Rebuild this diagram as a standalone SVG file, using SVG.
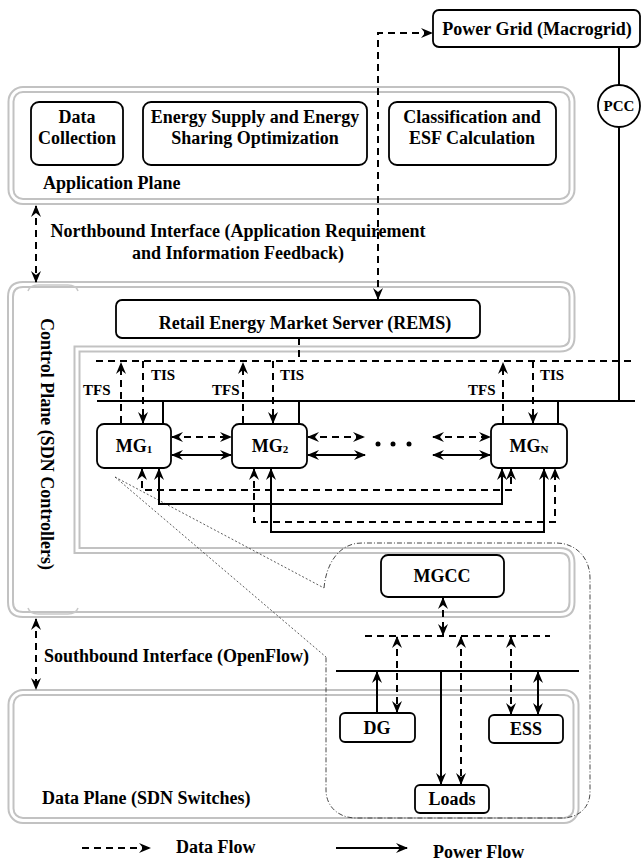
<svg xmlns="http://www.w3.org/2000/svg" width="644" height="862" viewBox="0 0 644 862">
<defs>
<style>
text{font-family:"Liberation Serif","Times New Roman",serif;font-weight:bold;fill:#000;font-size:18px}
.t15{font-size:15px}
.c{text-anchor:middle}
.box{fill:#fff;stroke:#000;stroke-width:1.8}
.plane{fill:none;stroke:#c2c2c2;stroke-width:7}
.gap{fill:none;stroke:#fff;stroke-width:3}
.d{fill:none;stroke:#000;stroke-width:2;stroke-dasharray:7 5}
.s{fill:none;stroke:#000;stroke-width:2}
.a1{marker-end:url(#ah)}
.a2{marker-start:url(#ah);marker-end:url(#ah)}
.lens{fill:none;stroke:#333;stroke-width:0.8;stroke-dasharray:2 2}
.bubble{fill:none;stroke:#333;stroke-width:0.9;stroke-dasharray:5 2 1 2}
.bump{fill:none;stroke:#c8c8c8;stroke-width:1.5}
</style>
<marker id="ah" viewBox="0 0 12 10" refX="11" refY="5" markerWidth="12" markerHeight="10" markerUnits="userSpaceOnUse" orient="auto-start-reverse">
<path d="M0,0 L12,5 L0,10 L4,5 Z" fill="#000"/>
</marker>
<rect id="appShape" x="11" y="89.5" width="561" height="112" rx="12"/>
<path id="ctrlShape" d="M23,284.5 H560 Q572,284.5 572,297 V337 Q572,349 560,349 H77 V550.5 H560 Q572,550.5 572,563 V602 Q572,614.5 560,614.5 H23 Q10.5,614.5 10.5,602 V297 Q10.5,284.5 23,284.5 Z"/>
<rect id="dataShape" x="11" y="692.5" width="565" height="128" rx="12"/>
</defs>

<!-- plane outlines (double grey border) -->
<g id="application-plane">
<use href="#appShape" class="plane"/>
<use href="#appShape" class="gap"/>
<text x="43" y="189">Application Plane</text>
</g>
<g id="control-plane">
<use href="#ctrlShape" class="plane"/>
<use href="#ctrlShape" class="gap"/>
<path class="bump" d="M28,291 Q30,285 38,285 H68 Q76,285 78,291"/>
<path class="bump" d="M28,608 Q30,614 38,614 H68 Q76,614 78,608"/>
<text class="c" transform="translate(41,444) rotate(90)">Control Plane (SDN Controllers)</text>
</g>
<g id="data-plane">
<use href="#dataShape" class="plane"/>
<use href="#dataShape" class="gap"/>
<text x="42" y="804">Data Plane (SDN Switches)</text>
</g>

<!-- zoom bubble around the microgrid internals -->
<g id="mg-detail">
<path class="lens" d="M115,477 L324,588 M115,477 L326,657"/>
<path class="bubble" d="M324,588 C326,565 338,543 362,543 H556 C576,543 590,558 590,578 V792 C590,808 578,818 562,818 H356 C338,818 326,806 326,790 V657"/>
</g>

<!-- connectors -->
<g id="connectors">
<!-- interfaces -->
<path class="d a2" d="M36,206 V282"/>
<path class="d a2" d="M36,619 V689"/>
<!-- REMS to power grid -->
<path class="d a2" d="M378,299 V33 H432"/>
<!-- grid tie through PCC -->
<path class="s" d="M619,47 V85 M619,127 V401"/>
<!-- power bus and information bus -->
<path class="s" d="M97,401 H635"/>
<path class="d" d="M96,361 H635"/>
<path class="d" d="M299,338 V361"/>
<!-- MG1 -->
<path class="d a1" d="M121,423 V363"/>
<path class="d a1" d="M143,361 V423"/>
<path class="s" d="M163,401 V424"/>
<!-- MG2 -->
<path class="d a1" d="M243,423 V363"/>
<path class="d a1" d="M273,361 V423"/>
<path class="s" d="M299,401 V424"/>
<!-- MGN -->
<path class="d a1" d="M503,423 V363"/>
<path class="d a1" d="M533,361 V423"/>
<path class="s" d="M558,401 V424"/>
<!-- MG to MG links -->
<path class="d a2" d="M172,437 H231"/>
<path class="s a2" d="M172,455 H231"/>
<path class="d a2" d="M308,437 H364"/>
<path class="s a2" d="M308,455 H365"/>
<path class="d a2" d="M433,437 H490"/>
<path class="s a2" d="M433,455 H490"/>
<path class="d a2" d="M142,469 V490 H511 V469"/>
<path class="s a2" d="M159,469 V504 H502 V469"/>
<path class="d a2" d="M254,469 V522 H555 V469"/>
<path class="s a2" d="M271,469 V532 H544 V469"/>
<!-- inside a microgrid -->
<path class="d a2" d="M443,598 V635"/>
<path class="d" d="M365,636 H550"/>
<path class="s" d="M336,671 H579"/>
<path class="s a1" d="M377,712 V672"/>
<path class="d a2" d="M397,637 V712"/>
<path class="s a1" d="M441,671 V784"/>
<path class="d a2" d="M461,637 V784"/>
<path class="d a2" d="M511,637 V714"/>
<path class="s a2" d="M538,672 V714"/>
</g>

<!-- nodes -->
<g id="power-grid">
<rect class="box" x="433" y="10" width="207" height="37" rx="6"/>
<text class="c" x="537" y="35">Power Grid (Macrogrid)</text>
</g>
<g id="pcc">
<circle class="box" cx="619" cy="106" r="21"/>
<text class="c t15" x="619" y="111">PCC</text>
</g>
<g id="data-collection">
<rect class="box" x="31" y="102" width="92" height="63" rx="8"/>
<text class="c" x="77" y="123">Data</text>
<text class="c" x="77" y="144">Collection</text>
</g>
<g id="energy-optimization">
<rect class="box" x="143" y="102" width="224" height="63" rx="8"/>
<text class="c" x="255" y="123">Energy Supply and Energy</text>
<text class="c" x="255" y="144">Sharing Optimization</text>
</g>
<g id="classification">
<rect class="box" x="389" y="102" width="167" height="63" rx="8"/>
<text class="c" x="472" y="123">Classification and</text>
<text class="c" x="472" y="144">ESF Calculation</text>
</g>
<g id="northbound">
<text class="c" x="238" y="237">Northbound Interface (Application Requirement</text>
<text class="c" x="238" y="259">and Information Feedback)</text>
</g>
<g id="rems">
<rect class="box" x="116" y="300" width="364" height="38" rx="6"/>
<text class="c" x="305" y="329">Retail Energy Market Server (REMS)</text>
</g>
<g id="mg1">
<rect class="box" x="97" y="424" width="74" height="44" rx="7"/>
<text class="c" x="134" y="452">MG<tspan font-size="11" dy="1">1</tspan></text>
<text class="t15" x="83" y="395">TFS</text>
<text class="t15" x="151" y="380">TIS</text>
</g>
<g id="mg2">
<rect class="box" x="232" y="424" width="75" height="44" rx="7"/>
<text class="c" x="270" y="452">MG<tspan font-size="11" dy="1">2</tspan></text>
<text class="t15" x="212" y="395">TFS</text>
<text class="t15" x="280" y="380">TIS</text>
</g>
<g id="mg-ellipsis">
<circle cx="378" cy="444" r="2.5"/>
<circle cx="393" cy="444" r="2.5"/>
<circle cx="409" cy="444" r="2.5"/>
</g>
<g id="mgn">
<rect class="box" x="491" y="424" width="76" height="44" rx="7"/>
<text class="c" x="529" y="452">MG<tspan font-size="11" dy="1">N</tspan></text>
<text class="t15" x="468" y="395">TFS</text>
<text class="t15" x="540" y="380">TIS</text>
</g>
<g id="southbound">
<text x="44" y="662">Southbound Interface (OpenFlow)</text>
</g>
<g id="mgcc">
<rect class="box" x="381" y="555" width="123" height="42" rx="7"/>
<text class="c" x="442" y="582">MGCC</text>
</g>
<g id="dg">
<rect class="box" x="340" y="713" width="75" height="29" rx="5"/>
<text class="c" x="377" y="734">DG</text>
</g>
<g id="ess">
<rect class="box" x="489" y="715" width="74" height="28" rx="5"/>
<text class="c" x="526" y="735">ESS</text>
</g>
<g id="loads">
<rect class="box" x="415" y="785" width="74" height="28" rx="5"/>
<text class="c" x="452" y="805">Loads</text>
</g>

<!-- legend -->
<g id="legend">
<path class="d a1" d="M82,848 H150"/>
<text x="176" y="853">Data Flow</text>
<path class="s a1" d="M336,848 H407"/>
<text x="433" y="858">Power Flow</text>
</g>
</svg>
